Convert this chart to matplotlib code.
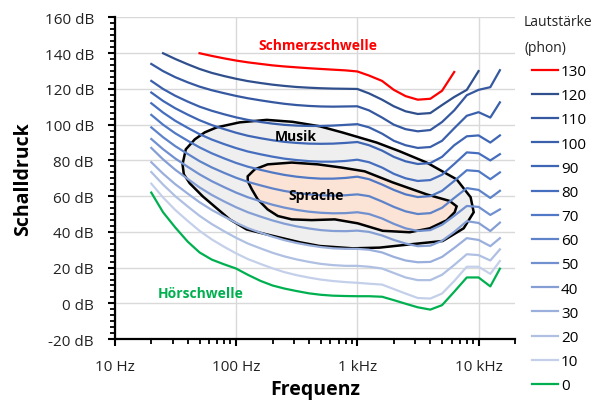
import numpy as np
import matplotlib.pyplot as plt
from matplotlib.ticker import FixedLocator, MultipleLocator, LogLocator, NullFormatter

plt.rcParams['font.family'] = ['Open Sans', 'DejaVu Sans']
nan = np.nan

# frequency grid (Hz)
freq = [20, 25, 31.5, 40, 50, 63, 80, 100, 125, 160, 200, 250, 315, 400, 500, 630, 800,
        1000, 1250, 1600, 2000, 2500, 3150, 4000, 5000, 6300, 8000, 10000, 12500, 15000]

# sound pressure level (dB) per loudness level (phon)
phon_130 = [nan, nan, nan, nan, 140, 138.5, 137.1, 135.9, 134.9, 134, 133.2, 132.6, 132.1, 131.6, 131.2, 130.8, 130.4,
            129.8, 127.5, 124.5, 119.5, 116, 114, 114.5, 119, 129.5, nan, nan, nan, nan]
phon_120 = [nan, 140, 136.8, 133.8, 131.2, 129, 127.2, 125.7, 124.4, 123.3, 122.4, 121.7, 121.1, 120.7, 120.4, 120.2, 120.1,
            120, 117.5, 114, 110.3, 107.5, 106, 106.5, 111, 115.5, 119.5, 130, nan, nan]
phon_110 = [134, 130, 126.6, 123.7, 121.3, 119.3, 117.6, 116.1, 114.8, 113.6, 112.6, 111.7, 111, 110.5, 110.2, 110.1, 110.2,
            110.3, 108, 104, 100, 97.5, 96.3, 97, 101.5, 108, 116.5, 119.5, 121, 130.5]
phon_100 = [124.5, 120, 116.2, 112.9, 110.1, 107.8, 105.8, 104.1, 102.7, 101.5, 100.6, 99.9, 99.5, 99.3, 99.3, 99.5, 99.9,
            100.3, 98.5, 95, 91, 88.5, 87, 87.5, 91, 98, 105, 107, 104, 112.5]
phon_90 = [118, 113.3, 109.2, 105.6, 102.5, 99.8, 97.5, 95.5, 93.8, 92.4, 91.3, 90.4, 89.8, 89.4, 89.3, 89.4, 89.8,
           90.3, 88.5, 85.5, 82, 79.5, 78, 78.5, 82, 88.5, 93.5, 94, 90, 94]
phon_80 = [112, 106.8, 102.2, 98.2, 94.7, 91.7, 89.1, 86.9, 85, 83.4, 82.1, 81, 80.2, 79.6, 79.3, 79.3, 79.7,
           80.4, 79, 76, 72.5, 70, 68.5, 69, 72, 78, 84.5, 84, 80, 83.5]
phon_70 = [105.5, 100, 95.2, 91, 87.3, 84, 81.1, 78.6, 76.5, 74.7, 73.2, 71.9, 70.9, 70.2, 69.8, 69.8, 70.2,
           70.9, 69.5, 66.5, 63.5, 61, 59.5, 60, 63, 68.5, 74.5, 74, 69.5, 73.3]
phon_60 = [98.5, 93, 88, 83.6, 79.6, 76.1, 73, 70.3, 68, 66, 64.3, 62.9, 61.8, 61, 60.5, 60.3, 60.5,
           61, 60, 57, 54, 51.5, 50, 50.5, 53.5, 59, 64.5, 63.5, 59, 63]
phon_50 = [92, 86.3, 81.1, 76.4, 72.2, 68.4, 65, 62, 59.4, 57.1, 55.2, 53.6, 52.3, 51.3, 50.7, 50.4, 50.5,
           51, 50, 47.5, 44.5, 42, 40.5, 41, 44, 49, 54.5, 54, 49.5, 52.6]
phon_40 = [87, 80.6, 74.8, 69.6, 64.9, 60.7, 57, 53.8, 51, 48.5, 46.4, 44.6, 43.1, 41.9, 41, 40.5, 40.4,
           40.7, 40, 38, 35.5, 33.5, 32, 32.3, 35, 40, 46, 45, 40.5, 45.2]
phon_30 = [79, 72.6, 66.7, 61.4, 56.6, 52.3, 48.5, 45.1, 42.1, 39.5, 37.3, 35.4, 33.8, 32.5, 31.5, 30.8, 30.5,
           30.5, 30, 28.5, 26, 24, 23, 23.2, 26, 31, 36.5, 35.5, 32, 36.5]
phon_20 = [73.5, 66.5, 60, 54.2, 49, 44.4, 40.3, 36.7, 33.5, 30.7, 28.3, 26.3, 24.6, 23.2, 22.1, 21.4, 21,
           21, 20.5, 19.5, 17, 14.5, 13, 13, 16, 21.5, 27.5, 27, 24, 30.2]
phon_10 = [67, 59.3, 52.3, 46.1, 40.6, 35.8, 31.6, 28, 24.8, 22, 19.6, 17.5, 15.8, 14.4, 13.3, 12.5, 11.9,
           11.5, 11, 10.5, 8, 5.5, 3, 2.7, 5.5, 12.5, 20.5, 20.5, 16.5, 23.7]
phon_0 = [62, 51, 42.5, 34.5, 28.5, 24.5, 21.8, 19.5, 16, 12.5, 10, 8.3, 6.9, 5.6, 4.8, 4.3, 4.1,
          4, 4, 3.7, 1.8, -0.2, -2.2, -3.5, -1, 6.5, 14.5, 14.5, 9.5, 19.4]

levels = ['130', '120', '110', '100', '90', '80', '70', '60', '50', '40', '30', '20', '10', '0']
curves = [phon_130, phon_120, phon_110, phon_100, phon_90, phon_80, phon_70, phon_60,
          phon_50, phon_40, phon_30, phon_20, phon_10, phon_0]
colors = ['#ff0000', '#2f4f8d', '#3558a0', '#3a5fab', '#3f66b5', '#466ebf', '#5078c4', '#5e83c9',
          '#7190cf', '#859fd5', '#9aafdc', '#afc0e3', '#c4d0ea', '#00b050']

# music / speech regions (Hz, dB)
musik_f = [36.2, 38.5, 45.7, 55.2, 69.3, 107, 179, 293, 490, 758, 1445, 2238, 3736, 6596, 8602, 9120,
           7538, 5058, 2704, 1531, 916, 490, 335, 179, 122, 88.7, 69.3, 53.1, 41.5, 37.1]
musik_db = [77.8, 86.2, 91.8, 95.7, 98.5, 101.3, 102.7, 101.6, 99.1, 95.6, 90.0, 85.1, 78.8, 69.4, 59.4, 51.0,
            42.0, 34.9, 33.0, 31.2, 30.8, 32.1, 34.2, 38.6, 41.4, 47.0, 53.2, 59.9, 67.2, 72.2]
sprache_f = [124.8, 142.6, 182.4, 287.7, 472, 743, 1150, 1959, 3736, 5781, 6596, 6353, 5459, 3958, 2704,
             1619, 1007, 652, 421, 288, 221, 182, 151, 135, 125]
sprache_db = [71.1, 75.0, 77.8, 78.8, 77.8, 76.0, 73.9, 67.7, 61.0, 57.3, 54.3, 51.0, 46.5, 42.0, 39.8,
              40.6, 44.8, 47.0, 46.6, 47.0, 48.9, 52.6, 58.2, 63.8, 68.3]

fig = plt.figure(figsize=(6.01, 4.02), dpi=100)
ax = fig.add_axes([0.191, 0.154, 0.666, 0.8])

ax.fill(musik_f, musik_db, facecolor='#efefef', edgecolor='none', zorder=1)
ax.fill(sprache_f, sprache_db, facecolor='#fbe3d6', edgecolor='none', zorder=1.1)
ax.fill(musik_f, musik_db, facecolor='none', edgecolor='black', linewidth=1.8, zorder=1.2)
ax.fill(sprache_f, sprache_db, facecolor='none', edgecolor='black', linewidth=1.8, zorder=1.3)

for lab, y, c in zip(levels, curves, colors):
    ax.plot(freq, y, color=c, linewidth=1.6, label=lab, zorder=2)

ax.text(310, 93.5, 'Musik', fontsize=10, fontweight='bold', ha='center', va='center', zorder=3)
ax.text(454, 60.5, 'Sprache', fontsize=10, fontweight='bold', ha='center', va='center', zorder=3)
ax.text(472, 144.5, 'Schmerzschwelle', fontsize=10, fontweight='bold', color='#ff0000', ha='center', va='center')
ax.text(51, 5.6, 'Hörschwelle', fontsize=10, fontweight='bold', color='#00b050', ha='center', va='center')

ax.set_xscale('log')
ax.set_xlim(10, 20000)
ax.set_ylim(-20, 160)
ax.xaxis.set_major_locator(FixedLocator([10, 100, 1000, 10000]))
ax.set_xticklabels(['10 Hz', '100 Hz', '1 kHz', '10 kHz'])
ax.xaxis.set_minor_locator(LogLocator(base=10, subs=np.arange(2, 10)))
ax.xaxis.set_minor_formatter(NullFormatter())
yt = list(range(-20, 161, 20))
ax.yaxis.set_major_locator(FixedLocator(yt))
ax.set_yticklabels(['%d dB' % v for v in yt])
ax.yaxis.set_minor_locator(MultipleLocator(20 / 6))

ax.grid(True, which='major', color='#d9d9d9', linewidth=1.0, zorder=0)
ax.set_axisbelow(True)
for s in ['top', 'right']:
    ax.spines[s].set_visible(False)
for s in ['left', 'bottom']:
    ax.spines[s].set_linewidth(1.6)
ax.tick_params(which='major', length=5, width=1.5, labelsize=11, colors='black', labelcolor='#222222')
ax.tick_params(which='minor', length=3.5, width=1.3)
ax.tick_params(axis='x', pad=9)
ax.tick_params(axis='y', pad=10)

ax.set_xlabel('Frequenz', fontsize=14, fontweight='bold', labelpad=4)
ax.set_ylabel('Schalldruck', fontsize=14, fontweight='bold', labelpad=8)

fig.text(0.872, 0.945, 'Lautstärke', fontsize=10, ha='left', va='center', color='#222222')
fig.text(0.872, 0.88, '(phon)', fontsize=10, ha='left', va='center', color='#222222')
fig.legend(loc='upper left', bbox_to_anchor=(0.885, 0.838), frameon=False, fontsize=11,
           handlelength=1.7, handletextpad=0.2, labelspacing=0.6, borderpad=0, borderaxespad=0)

fig.savefig('out.png', dpi=100)
